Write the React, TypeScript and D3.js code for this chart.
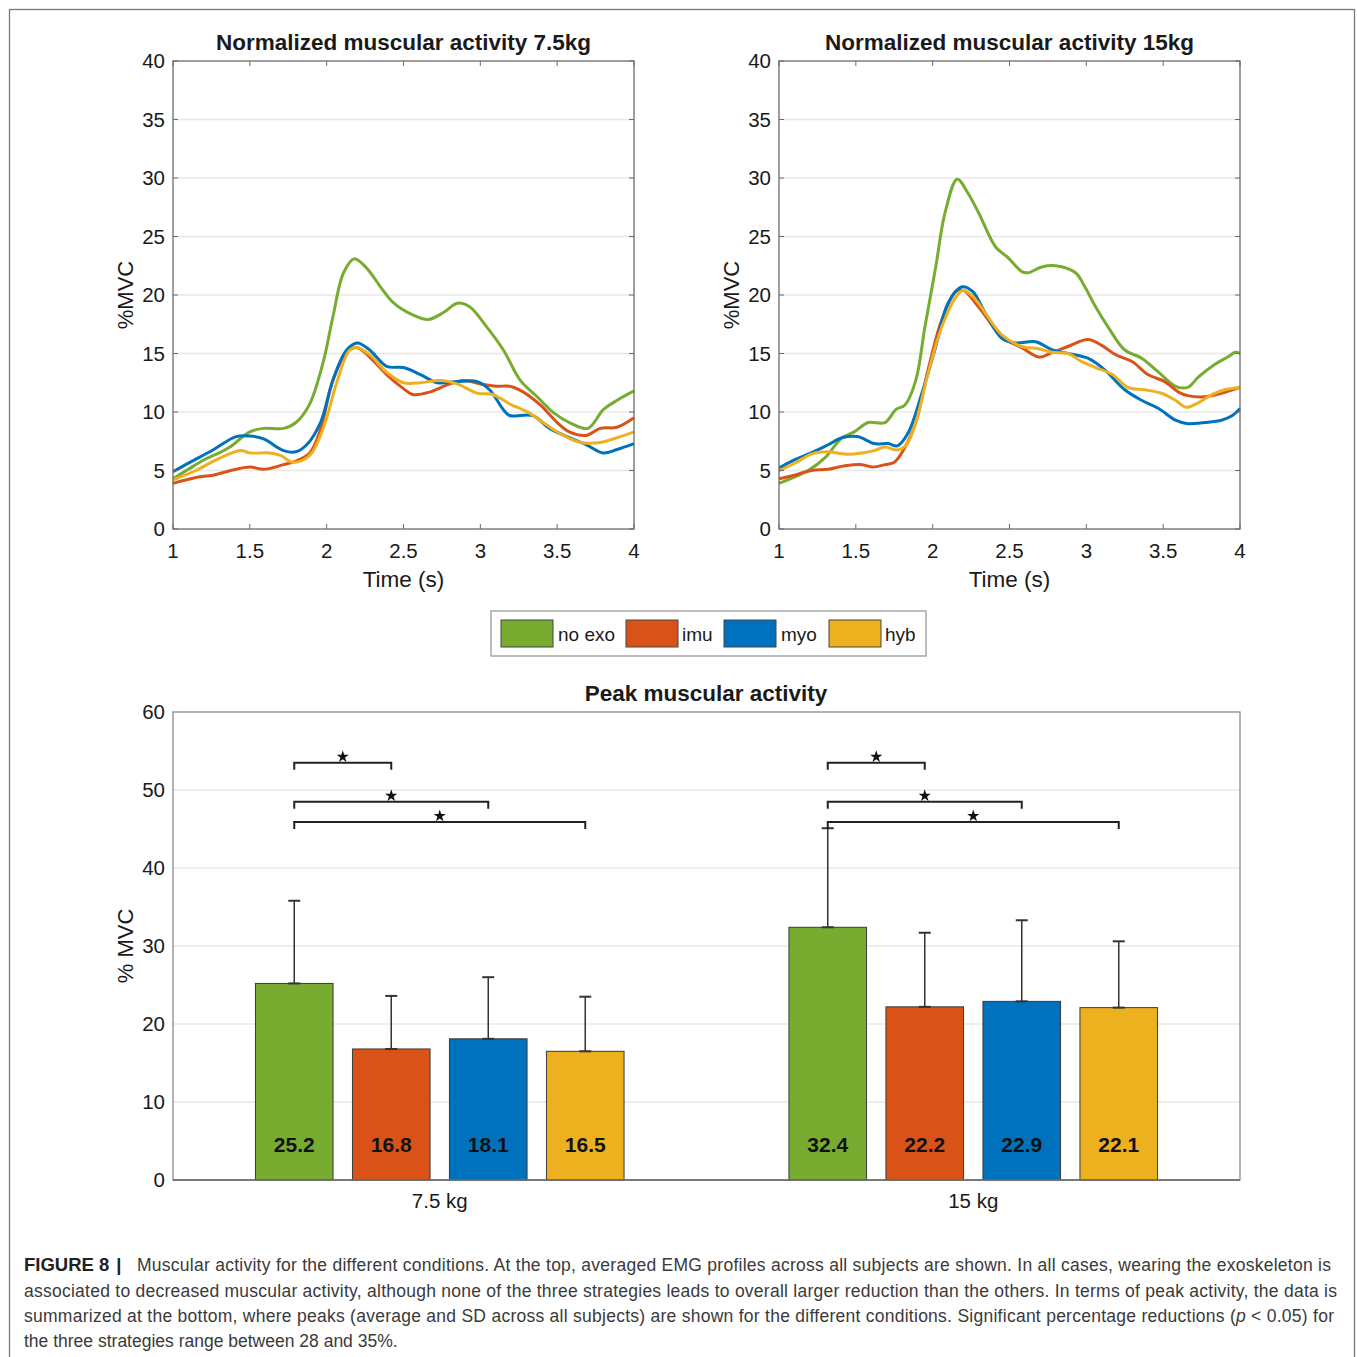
import * as d3 from 'd3';

const FONT = 'Liberation Sans, Arial, Helvetica, sans-serif';

const SERIES = ['no exo', 'imu', 'myo', 'hyb'];
const COLORS = ['#77AC30', '#D95319', '#0072BD', '#EDB120'];

const TIME_TICKS = [1, 1.5, 2, 2.5, 3, 3.5, 4];
const MVC_TICKS = [0, 5, 10, 15, 20, 25, 30, 35, 40];
const PEAK_TICKS = [0, 10, 20, 30, 40, 50, 60];

// averaged EMG profiles, [time (s), %MVC]
const noExo75: [number, number][] = [
  [1.0, 4.3], [1.1, 5.1], [1.2, 5.9], [1.3, 6.5], [1.37, 7.0], [1.5, 8.3], [1.59, 8.6], [1.72, 8.6],
  [1.8, 9.1], [1.89, 10.7], [1.98, 14.4], [2.04, 18.1], [2.11, 21.9], [2.18, 23.1], [2.26, 22.3],
  [2.35, 20.7], [2.43, 19.4], [2.56, 18.3], [2.66, 17.9], [2.76, 18.5], [2.85, 19.3], [2.93, 19.0],
  [3.04, 17.3], [3.15, 15.3], [3.26, 12.7], [3.37, 11.3], [3.48, 9.9], [3.58, 9.1], [3.7, 8.6],
  [3.8, 10.2], [3.89, 11.0], [4.0, 11.8],
];
const imu75: [number, number][] = [
  [1.0, 3.9], [1.15, 4.4], [1.26, 4.6], [1.41, 5.1], [1.5, 5.3], [1.59, 5.1], [1.72, 5.5], [1.8, 5.8],
  [1.89, 6.5], [1.96, 8.5], [2.04, 12.7], [2.13, 15.1], [2.2, 15.5], [2.28, 14.7], [2.39, 13.2],
  [2.5, 12.0], [2.56, 11.5], [2.67, 11.7], [2.78, 12.3], [2.89, 12.7], [3.0, 12.4], [3.11, 12.2],
  [3.19, 12.2], [3.28, 11.7], [3.39, 10.6], [3.5, 9.1], [3.58, 8.3], [3.69, 8.0], [3.78, 8.6],
  [3.89, 8.7], [4.0, 9.5],
];
const myo75: [number, number][] = [
  [1.0, 4.9], [1.11, 5.7], [1.26, 6.75], [1.41, 7.9], [1.5, 7.95], [1.59, 7.7], [1.72, 6.7], [1.8, 6.6],
  [1.87, 7.2], [1.96, 9.1], [2.04, 12.7], [2.13, 15.3], [2.2, 15.9], [2.28, 15.3], [2.39, 13.9],
  [2.5, 13.8], [2.61, 13.2], [2.72, 12.5], [2.85, 12.6], [2.98, 12.6], [3.06, 11.9], [3.15, 10.2],
  [3.19, 9.7], [3.34, 9.7], [3.45, 8.6], [3.58, 7.8], [3.69, 7.2], [3.8, 6.5], [3.89, 6.8], [4.0, 7.3],
];
const hyb75: [number, number][] = [
  [1.0, 4.2], [1.15, 5.0], [1.28, 5.9], [1.44, 6.7], [1.5, 6.5], [1.63, 6.5], [1.7, 6.3], [1.78, 5.7],
  [1.89, 6.3], [1.98, 8.7], [2.07, 12.7], [2.15, 15.3], [2.2, 15.5], [2.28, 14.9], [2.39, 13.4],
  [2.5, 12.5], [2.61, 12.5], [2.74, 12.7], [2.85, 12.4], [2.98, 11.6], [3.08, 11.5], [3.19, 10.7],
  [3.32, 9.9], [3.43, 8.9], [3.54, 8.0], [3.65, 7.4], [3.78, 7.4], [3.89, 7.8], [4.0, 8.3],
];

const noExo15: [number, number][] = [
  [1.0, 3.9], [1.19, 5.0], [1.3, 6.1], [1.41, 7.8], [1.49, 8.3], [1.58, 9.1], [1.69, 9.1], [1.76, 10.2],
  [1.82, 10.6], [1.89, 12.7], [1.95, 17.3], [2.02, 22.4], [2.08, 27.0], [2.16, 29.9], [2.23, 28.7],
  [2.3, 27.0], [2.41, 24.1], [2.49, 23.2], [2.58, 22.0], [2.62, 21.9], [2.71, 22.4], [2.8, 22.5],
  [2.93, 21.9], [2.99, 20.7], [3.06, 19.0], [3.14, 17.3], [3.25, 15.3], [3.36, 14.6], [3.47, 13.4],
  [3.58, 12.2], [3.66, 12.1], [3.73, 13.0], [3.84, 14.1], [3.92, 14.7], [3.97, 15.1], [4.0, 15.0],
];
const imu15: [number, number][] = [
  [1.0, 4.3], [1.1, 4.6], [1.21, 5.0], [1.32, 5.1], [1.43, 5.4], [1.54, 5.5], [1.61, 5.3], [1.69, 5.5],
  [1.75, 5.7], [1.81, 6.75], [1.89, 9.1], [1.97, 13.6], [2.06, 17.9], [2.15, 20.3], [2.2, 20.4],
  [2.28, 19.3], [2.36, 17.9], [2.45, 16.4], [2.58, 15.5], [2.69, 14.7], [2.78, 15.1], [2.88, 15.6],
  [3.01, 16.2], [3.1, 15.7], [3.19, 14.9], [3.3, 14.3], [3.4, 13.2], [3.51, 12.6], [3.6, 11.7],
  [3.66, 11.4], [3.77, 11.3], [3.88, 11.6], [4.0, 12.1],
];
const myo15: [number, number][] = [
  [1.0, 5.2], [1.1, 5.9], [1.21, 6.5], [1.32, 7.2], [1.41, 7.8], [1.51, 7.9], [1.62, 7.3], [1.71, 7.3],
  [1.77, 7.1], [1.84, 8.2], [1.93, 11.6], [2.02, 15.6], [2.1, 19.3], [2.19, 20.7], [2.26, 20.3],
  [2.34, 18.5], [2.45, 16.3], [2.54, 15.9], [2.67, 16.0], [2.78, 15.3], [2.88, 15.0], [3.01, 14.6],
  [3.12, 13.6], [3.25, 11.9], [3.36, 11.0], [3.47, 10.3], [3.58, 9.3], [3.66, 9.0], [3.77, 9.1],
  [3.88, 9.3], [3.95, 9.7], [4.0, 10.3],
];
const hyb15: [number, number][] = [
  [1.0, 5.0], [1.1, 5.6], [1.21, 6.4], [1.32, 6.6], [1.43, 6.4], [1.54, 6.5], [1.62, 6.7], [1.69, 7.0],
  [1.77, 6.75], [1.83, 7.2], [1.89, 9.1], [1.97, 13.3], [2.06, 17.3], [2.15, 19.8], [2.2, 20.4],
  [2.28, 19.6], [2.36, 18.1], [2.45, 16.6], [2.58, 15.6], [2.69, 15.4], [2.78, 15.1], [2.88, 15.0],
  [2.97, 14.3], [3.06, 13.8], [3.17, 13.2], [3.27, 12.1], [3.38, 11.9], [3.49, 11.6], [3.58, 11.0],
  [3.65, 10.4], [3.73, 10.8], [3.82, 11.5], [3.9, 11.9], [4.0, 12.1],
];

// peak activity: mean and SD per condition
const LOADS = ['7.5 kg', '15 kg'];
const peakMean75 = [25.2, 16.8, 18.1, 16.5];
const peakSd75 = [10.6, 6.8, 7.9, 7.0];
const peakMean15 = [32.4, 22.2, 22.9, 22.1];
const peakSd15 = [12.7, 9.5, 10.4, 8.5];
const BRACKET_LEVELS = [53.5, 48.5, 45.9]; // no exo vs imu / myo / hyb

const CAPTION = [
  'Muscular activity for the different conditions. At the top, averaged EMG profiles across all subjects are shown. In all cases, wearing the exoskeleton is',
  'associated to decreased muscular activity, although none of the three strategies leads to overall larger reduction than the others. In terms of peak activity, the data is',
  'summarized at the bottom, where peaks (average and SD across all subjects) are shown for the different conditions. Significant percentage reductions (',
  'the three strategies range between 28 and 35%.',
];

const AXIS = '#6b6b6b';
const GRID = '#e8e8e8';
const TXT = '#1a1a1a';

function LinePanel({ left, title, data }: { left: number; title: string; data: [number, number][][] }) {
  const W = 461, top = 61, bottom = 529;
  const x = d3.scaleLinear().domain([1, 4]).range([left, left + W]);
  const y = d3.scaleLinear().domain([0, 40]).range([bottom, top]);
  const line = d3.line<[number, number]>().x(d => x(d[0])).y(d => y(d[1])).curve(d3.curveCatmullRom.alpha(0.5));
  return (
    <g>
      {MVC_TICKS.slice(1, -1).map(t => (
        <line key={t} x1={left} x2={left + W} y1={y(t)} y2={y(t)} stroke={GRID} strokeWidth={1.5} />
      ))}
      {data.map((s, i) => (
        <path key={i} d={line(s) ?? ''} fill="none" stroke={COLORS[i]} strokeWidth={3} strokeLinejoin="round" />
      ))}
      <rect x={left} y={top} width={W} height={bottom - top} fill="none" stroke={AXIS} strokeWidth={1.3} />
      {TIME_TICKS.map(t => (
        <g key={t}>
          <line x1={x(t)} x2={x(t)} y1={bottom} y2={bottom - 5} stroke={AXIS} />
          <line x1={x(t)} x2={x(t)} y1={top} y2={top + 5} stroke={AXIS} />
          <text x={x(t)} y={558} textAnchor="middle" fontSize={20.5} fill={TXT}>{t}</text>
        </g>
      ))}
      {MVC_TICKS.map(t => (
        <g key={t}>
          <line x1={left} x2={left + 5} y1={y(t)} y2={y(t)} stroke={AXIS} />
          <line x1={left + W} x2={left + W - 5} y1={y(t)} y2={y(t)} stroke={AXIS} />
          <text x={left - 8} y={y(t) + 7} textAnchor="end" fontSize={20.5} fill={TXT}>{t}</text>
        </g>
      ))}
      <text x={left + W / 2} y={50} textAnchor="middle" fontSize={22.5} fontWeight="bold" fill={TXT}>{title}</text>
      <text x={left + W / 2} y={587} textAnchor="middle" fontSize={22.5} fill={TXT}>Time (s)</text>
      <text transform={`translate(${left - 40},${y(20)}) rotate(-90)`} textAnchor="middle" fontSize={22} fill={TXT}>%MVC</text>
    </g>
  );
}

function Legend() {
  const items = [
    { sx: 501, tx: 558 },
    { sx: 626, tx: 682 },
    { sx: 724, tx: 781 },
    { sx: 829, tx: 885 },
  ];
  return (
    <g>
      <rect x={491} y={611} width={435} height={45} fill="#fff" stroke="#9a9a9a" strokeWidth={1.3} />
      {items.map((it, i) => (
        <g key={i}>
          <rect x={it.sx} y={620} width={52} height={27} fill={COLORS[i]} stroke="#444" strokeWidth={1} />
          <text x={it.tx} y={641} fontSize={19} fill={TXT}>{SERIES[i]}</text>
        </g>
      ))}
    </g>
  );
}

function PeakChart() {
  const left = 173, right = 1240, top = 712, bottom = 1180;
  const y = d3.scaleLinear().domain([0, 60]).range([bottom, top]);
  const xg = d3.scaleBand().domain(LOADS).range([left, right]);
  const xs = d3.scaleBand().domain(SERIES).range([-194, 194]).paddingInner(0.2).paddingOuter(0.1);
  const groups = [
    { load: LOADS[0], mean: peakMean75, sd: peakSd75 },
    { load: LOADS[1], mean: peakMean15, sd: peakSd15 },
  ];
  const star = d3.symbol().type(d3.symbolStar).size(46)();
  const cx = (load: string, s: string) => (xg(load) ?? 0) + xg.bandwidth() / 2 + (xs(s) ?? 0) + xs.bandwidth() / 2;
  return (
    <g>
      {PEAK_TICKS.slice(1, -1).map(t => (
        <line key={t} x1={left} x2={right} y1={y(t)} y2={y(t)} stroke={GRID} strokeWidth={1.5} />
      ))}
      {groups.map(g => (
        <g key={g.load}>
          {SERIES.map((s, i) => {
            const bx = (xg(g.load) ?? 0) + xg.bandwidth() / 2 + (xs(s) ?? 0);
            const c = cx(g.load, s);
            return (
              <g key={s}>
                <rect x={bx} y={y(g.mean[i])} width={xs.bandwidth()} height={bottom - y(g.mean[i])}
                  fill={COLORS[i]} stroke="#3a3a3a" strokeWidth={1} />
                <line x1={c} x2={c} y1={y(g.mean[i])} y2={y(g.mean[i] + g.sd[i])} stroke="#333" strokeWidth={1.5} />
                <line x1={c - 6} x2={c + 6} y1={y(g.mean[i] + g.sd[i])} y2={y(g.mean[i] + g.sd[i])} stroke="#333" strokeWidth={2} />
                <line x1={c - 6} x2={c + 6} y1={y(g.mean[i])} y2={y(g.mean[i])} stroke="#333" strokeWidth={2} />
                <text x={c} y={1152} textAnchor="middle" fontSize={21} fontWeight="bold" fill="#111">{g.mean[i]}</text>
              </g>
            );
          })}
          {BRACKET_LEVELS.map((lv, k) => {
            const x0 = cx(g.load, SERIES[0]);
            const x1 = cx(g.load, SERIES[k + 1]);
            const yy = y(lv);
            return (
              <g key={k}>
                <path d={`M${x0},${yy + 7}V${yy}H${x1}V${yy + 7}`} fill="none" stroke="#222" strokeWidth={2} />
                <path d={star} transform={`translate(${(x0 + x1) / 2},${yy - 6})`} fill="#111" />
              </g>
            );
          })}
          <text x={(xg(g.load) ?? 0) + xg.bandwidth() / 2} y={1208} textAnchor="middle" fontSize={20.5} fill={TXT}>{g.load}</text>
        </g>
      ))}
      <rect x={left} y={top} width={right - left} height={bottom - top} fill="none" stroke="#8a8a8a" strokeWidth={1.3} />
      <line x1={left} x2={right} y1={bottom} y2={bottom} stroke="#666" strokeWidth={1.5} />
      {PEAK_TICKS.map(t => (
        <text key={t} x={165} y={y(t) + 7} textAnchor="end" fontSize={20.5} fill={TXT}>{t}</text>
      ))}
      <text x={706} y={701} textAnchor="middle" fontSize={22.5} fontWeight="bold" fill={TXT}>Peak muscular activity</text>
      <text transform={`translate(133,${y(30)}) rotate(-90)`} textAnchor="middle" fontSize={22} fill={TXT}>% MVC</text>
    </g>
  );
}

export default function App() {
  const capY = [1271, 1297, 1322, 1347];
  return (
    <div style={{ position: 'absolute', left: 0, top: 0 }}>
      <svg width={1357} height={1357} style={{ display: 'block', fontFamily: FONT }}>
        <rect width={1357} height={1357} fill="#fff" />
        <rect x={9.5} y={9.5} width={1345} height={1360} fill="none" stroke="#777" strokeWidth={1.3} />
        <LinePanel left={173} title="Normalized muscular activity 7.5kg" data={[noExo75, imu75, myo75, hyb75]} />
        <LinePanel left={779} title="Normalized muscular activity 15kg" data={[noExo15, imu15, myo15, hyb15]} />
        <Legend />
        <PeakChart />
        <g fontSize={17.5} fill="#3a3a3a">
          <text x={24} y={capY[0]} fontSize={18.5}>
            <tspan fontWeight="bold" fill="#222">FIGURE 8</tspan>
            <tspan fontWeight="bold" fill="#222" dx={7}>|</tspan>
          </text>
          <text x={137} y={capY[0]} textLength={1194} lengthAdjust="spacing">{CAPTION[0]}</text>
          <text x={24} y={capY[1]} textLength={1313} lengthAdjust="spacing">{CAPTION[1]}</text>
          <text x={24} y={capY[2]} textLength={1310} lengthAdjust="spacing">
            {CAPTION[2]}<tspan fontStyle="italic">p</tspan>{' < 0.05) for'}
          </text>
          <text x={24} y={capY[3]}>{CAPTION[3]}</text>
        </g>
      </svg>
    </div>
  );
}
